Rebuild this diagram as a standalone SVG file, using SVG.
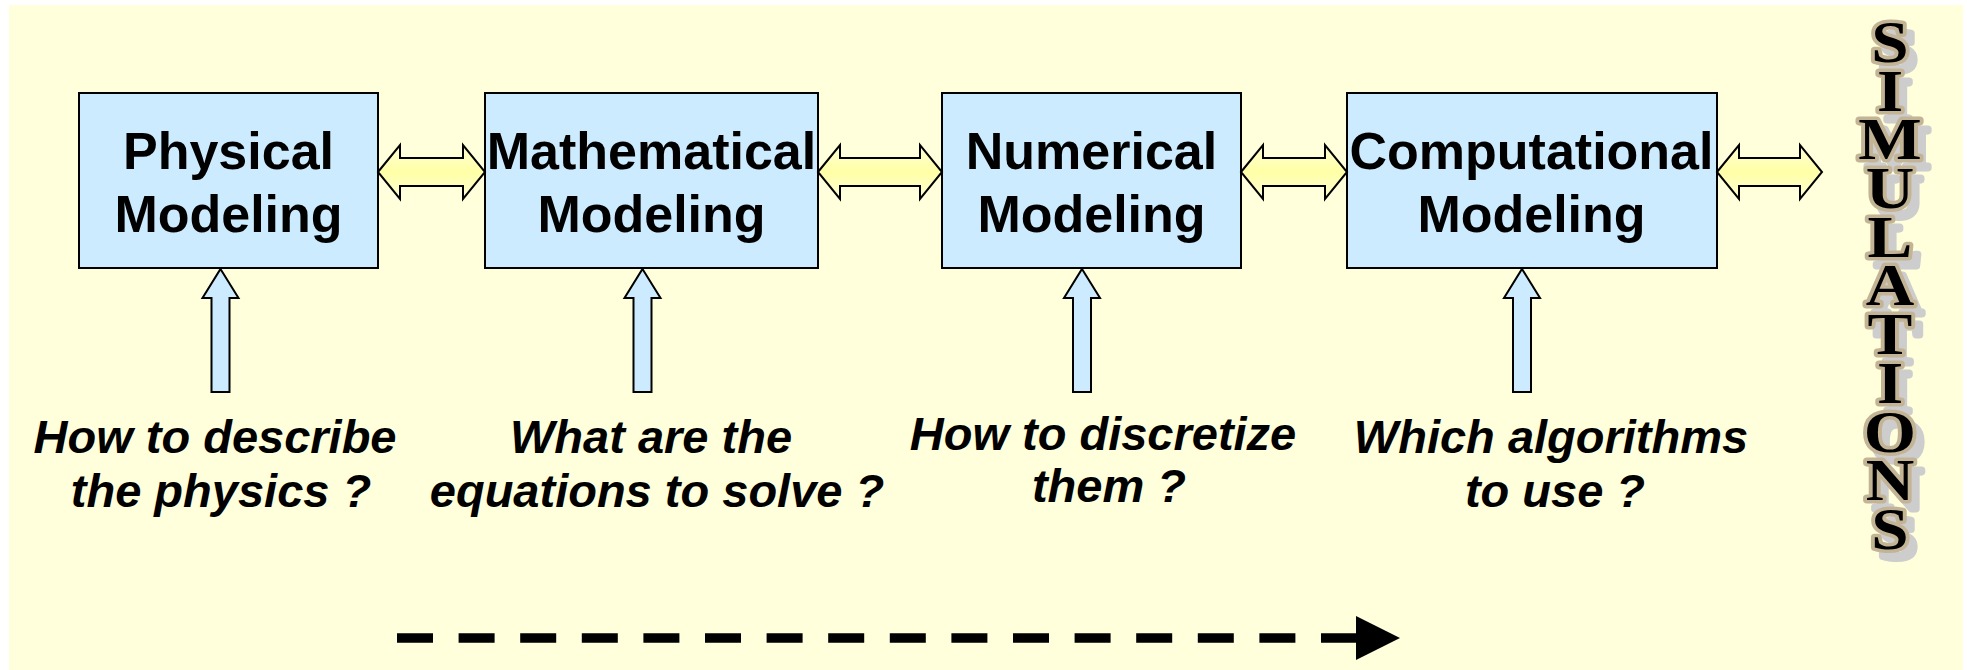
<svg xmlns="http://www.w3.org/2000/svg" width="1967" height="670" viewBox="0 0 1967 670">
  <defs>
    <linearGradient id="pipeFill" x1="0" y1="0" x2="0" y2="1">
      <stop offset="0" stop-color="#ffffd6"/>
      <stop offset="0.5" stop-color="#ffffa6"/>
      <stop offset="1" stop-color="#ffffd6"/>
    </linearGradient>
    <!-- grey drop shadow behind the embossed column lettering -->
    <filter id="dropShadow" x="-30%" y="-5%" width="170%" height="115%">
      <feOffset in="SourceAlpha" dx="8" dy="9" result="off"/>
      <feFlood flood-color="#cdcdcd"/>
      <feComposite in2="off" operator="in" result="shadow"/>
      <feMerge>
        <feMergeNode in="shadow"/>
        <feMergeNode in="SourceGraphic"/>
      </feMerge>
    </filter>
  </defs>
  <style>
    .box { fill: #cdebff; stroke: #000; stroke-width: 2; }
    .title { font-family: "Liberation Sans", Arial, sans-serif; font-weight: bold; font-size: 52px; text-anchor: middle; fill: #000; }
    .question { font-family: "Liberation Sans", Arial, sans-serif; font-weight: bold; font-style: italic; font-size: 47px; text-anchor: middle; fill: #000; }
    .link { fill: url(#pipeFill); stroke: #000; stroke-width: 2; stroke-linejoin: miter; }
    .feed { fill: #cdebff; stroke: #000; stroke-width: 2; }
    .flow { stroke: #000; stroke-width: 9.5; stroke-dasharray: 36 25.6; fill: none; }
    .sim { font-family: "Liberation Serif", "Times New Roman", serif; font-weight: bold; font-size: 60px; text-anchor: middle;
           fill: #000; stroke: #c4b496; stroke-width: 7; paint-order: stroke; stroke-linejoin: round; }
  </style>

  <!-- page background -->
  <rect x="9" y="5" width="1954" height="665" fill="#ffffdc"/>

  <!-- modeling stages -->
  <g id="physical">
    <rect class="box" x="79" y="93" width="299" height="175"/>
    <text class="title" x="228.5" y="169">Physical</text>
    <text class="title" x="228.5" y="232">Modeling</text>
  </g>
  <g id="mathematical">
    <rect class="box" x="485" y="93" width="333" height="175"/>
    <text class="title" x="651.5" y="169">Mathematical</text>
    <text class="title" x="651.5" y="232">Modeling</text>
  </g>
  <g id="numerical">
    <rect class="box" x="942" y="93" width="299" height="175"/>
    <text class="title" x="1091.5" y="169">Numerical</text>
    <text class="title" x="1091.5" y="232">Modeling</text>
  </g>
  <g id="computational">
    <rect class="box" x="1347" y="93" width="370" height="175"/>
    <text class="title" x="1531.5" y="169">Computational</text>
    <text class="title" x="1531.5" y="232">Modeling</text>
  </g>

  <!-- guiding questions -->
  <g id="q-physical">
    <text class="question" x="215" y="453">How to describe</text>
    <text class="question" x="221" y="507">the physics ?</text>
  </g>
  <g id="q-mathematical">
    <text class="question" x="651" y="453">What are the</text>
    <text class="question" x="657" y="507">equations to solve ?</text>
  </g>
  <g id="q-numerical">
    <text class="question" x="1103" y="450">How to discretize</text>
    <text class="question" x="1109" y="502">them ?</text>
  </g>
  <g id="q-computational">
    <text class="question" x="1551" y="453">Which algorithms</text>
    <text class="question" x="1555" y="507">to use ?</text>
  </g>

  <!-- result column: stacked, embossed capitals -->
  <g id="simulations" filter="url(#dropShadow)">
    <text class="sim" transform="translate(1890,0) scale(1.12,1) translate(-1890,0)"><tspan x="1890" y="62">S</tspan><tspan x="1890" y="110.7">I</tspan><tspan x="1890" y="159.4">M</tspan><tspan x="1890" y="208.1">U</tspan><tspan x="1890" y="256.8">L</tspan><tspan x="1890" y="305.5">A</tspan><tspan x="1890" y="354.2">T</tspan><tspan x="1890" y="402.9">I</tspan><tspan x="1890" y="451.6">O</tspan><tspan x="1890" y="500.3">N</tspan><tspan x="1890" y="549">S</tspan></text>
  </g>

  <!-- connectors -->
  <g id="connectors">
    <!-- two-way links between stages -->
    <path class="link" d="M378,172 L400,145 L400,158 L463,158 L463,145 L485,172 L463,199 L463,186 L400,186 L400,199 Z"/>
    <path class="link" d="M818,172 L840,145 L840,158 L920,158 L920,145 L942,172 L920,199 L920,186 L840,186 L840,199 Z"/>
    <path class="link" d="M1241,172 L1263,145 L1263,158 L1325,158 L1325,145 L1347,172 L1325,199 L1325,186 L1263,186 L1263,199 Z"/>
    <path class="link" d="M1717,172 L1739,145 L1739,158 L1800,158 L1800,145 L1822,172 L1800,199 L1800,186 L1739,186 L1739,199 Z"/>
    <!-- questions feeding each stage -->
    <path class="feed" d="M220.5,269 L238.5,298 L229.5,298 L229.5,392 L211.5,392 L211.5,298 L202.5,298 Z"/>
    <path class="feed" d="M642.5,269 L660.5,298 L651.5,298 L651.5,392 L633.5,392 L633.5,298 L624.5,298 Z"/>
    <path class="feed" d="M1082,269 L1100,298 L1091,298 L1091,392 L1073,392 L1073,298 L1064,298 Z"/>
    <path class="feed" d="M1522,269 L1540,298 L1531,298 L1531,392 L1513,392 L1513,298 L1504,298 Z"/>
    <!-- overall direction -->
    <line class="flow" x1="397" y1="638" x2="1357" y2="638"/>
    <polygon points="1356,616 1400,638 1356,660" fill="#000"/>
  </g>
</svg>
